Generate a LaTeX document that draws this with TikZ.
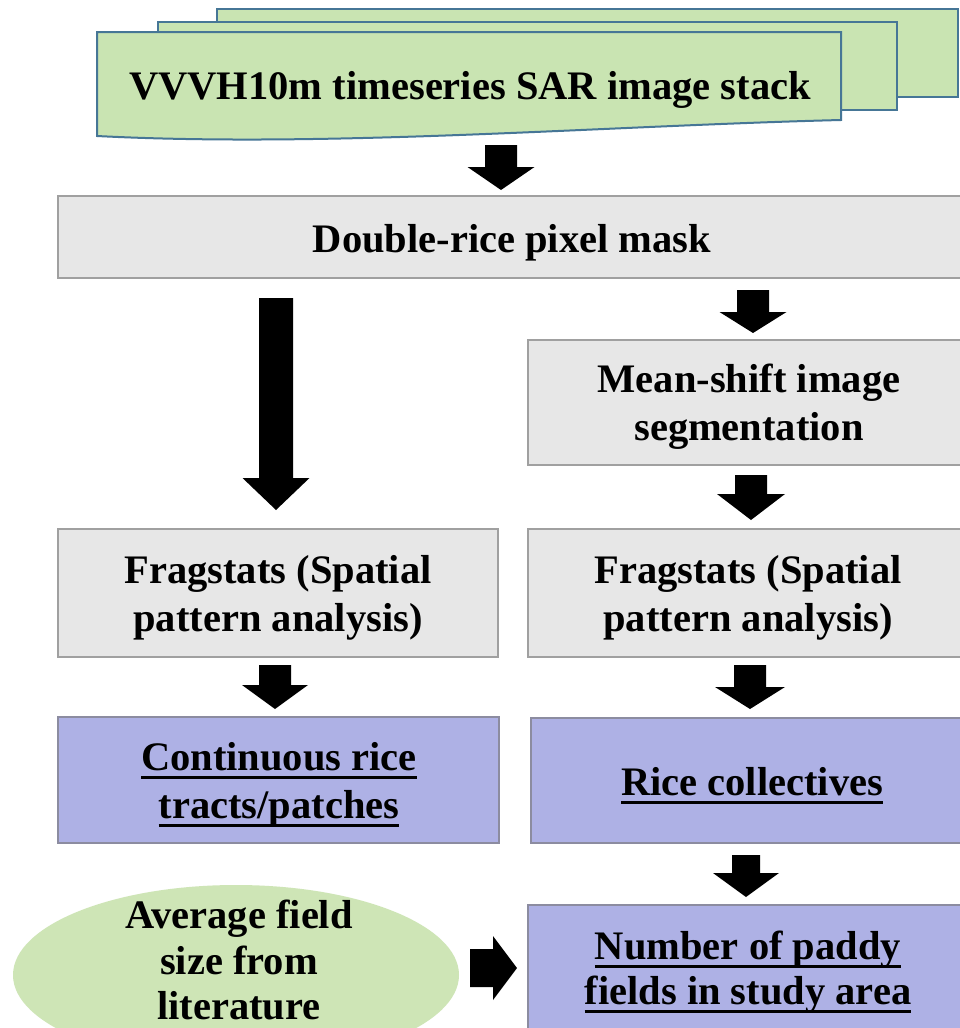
\documentclass[tikz,border=0pt]{standalone}
\usepackage{fontspec}
\setmainfont{Liberation Serif}
\usetikzlibrary{shapes.geometric,calc}
\definecolor{sheetfill}{RGB}{201,228,178}
\definecolor{sheetline}{RGB}{70,118,150}
\definecolor{boxgrey}{RGB}{231,231,231}
\definecolor{boxline}{RGB}{160,160,160}
\definecolor{boxpurple}{RGB}{174,177,229}
\definecolor{purpleline}{RGB}{140,140,160}
\definecolor{ellgreen}{RGB}{206,229,182}
\newcommand\ulx[1]{\leavevmode\setbox0\hbox{#1}\rlap{\rule[-9pt]{\wd0}{3pt}}\box0}
\newcommand\myvarrow[5]{\fill[blockarrow] let \p1=(#1), \p2=(#2) in (\x1-#3,\y1) -- (\x1+#3,\y1) -- (\x1+#3,\y2+#5) -- (\x1+#4,\y2+#5) -- (\x1,\y2) -- (\x1-#4,\y2+#5) -- (\x1-#3,\y2+#5) -- cycle;}
\newcommand\myharrow[5]{\fill[blockarrow] let \p1=(#1), \p2=(#2) in (\x1,\y1-#3) -- (\x1,\y1+#3) -- (\x2-#5,\y1+#3) -- (\x2-#5,\y1+#4) -- (\x2,\y1) -- (\x2-#5,\y1-#4) -- (\x2-#5,\y1-#3) -- cycle;}
\tikzset{
  txt/.style={align=center, font=\fontsize{40.5pt}{48pt}\selectfont\bfseries, inner sep=0pt},
  sheet/.style={draw=sheetline, fill=sheetfill, line width=2pt},
  greybox/.style={draw=boxline, fill=boxgrey, line width=1.6pt, inner sep=0pt, minimum width=440pt},
  purplebox/.style={draw=purpleline, fill=boxpurple, line width=1.6pt, inner sep=0pt, minimum width=440pt},
  blockarrow/.style={fill=black}
}
\begin{document}
\begin{tikzpicture}[x=1pt,y=-1pt]
\useasboundingbox (0,0) rectangle (960,1028);
\clip (0,0) rectangle (960,1028);
\fill[white] (0,0) rectangle (960,1028);
% image stack
\draw[sheet] (217,9) rectangle (958,97);
\draw[sheet] (158,22) rectangle (897,110);
\draw[sheet] (97,32) -- (841,32) -- (841,120) .. controls (600,126) and (330,148) .. (97,136) -- cycle;
\node[txt] (stackT) at (470,89.5) {VVVH10m timeseries SAR image stack};
% boxes
\node[greybox, minimum width=908pt, minimum height=82pt] (mask) at (512,237) {};
\node[txt] (maskT) at (512,242.7) {Double-rice pixel mask};
\node[greybox, minimum height=125pt] (seg) at (748,402.5) {};
\node[txt] (segT) at (749,407) {Mean-shift image\\segmentation};
\node[greybox, minimum height=128pt] (fragL) at (278,593) {};
\node[txt] (fragLT) at (278,597.5) {Fragstats (Spatial\\pattern analysis)};
\node[greybox, minimum height=128pt] (fragR) at (748,593) {};
\node[txt] (fragRT) at (748,597.5) {Fragstats (Spatial\\pattern analysis)};
\node[purplebox, minimum width=441pt, minimum height=126pt] (tracts) at (278.5,780) {};
\node[txt] (tractsT) at (279,784.5) {\ulx{Continuous rice}\\\ulx{tracts/patches}};
\node[purplebox, minimum width=437pt, minimum height=125pt] (coll) at (749.5,780.5) {};
\node[txt] (collT) at (752,785.5) {\ulx{Rice collectives}};
\node[purplebox, minimum height=130pt] (num) at (748,970) {};
\node[txt, font=\fontsize{40.5pt}{45pt}\selectfont\bfseries] (numT) at (748,972) {\ulx{Number of paddy}\\\ulx{fields in study area}};
\node[ellipse, fill=ellgreen, inner sep=0pt, minimum width=446pt, minimum height=180pt] (avg) at (236,975) {};
\node[txt, font=\fontsize{40.5pt}{45.5pt}\selectfont\bfseries] (avgT) at (239,960) {Average field\\size from\\literature};
% arrow coordinates
\coordinate (a1s) at (501,145); \coordinate (a1e) at (501,190);
\coordinate (a2s) at (276,298); \coordinate (a2e) at (276,510);
\coordinate (a3s) at (753,290); \coordinate (a3e) at (753,333);
\coordinate (a4s) at (751,475); \coordinate (a4e) at (751,520);
\coordinate (a5s) at (275,665); \coordinate (a5e) at (275,709);
\coordinate (a6s) at (750,665); \coordinate (a6e) at (750,709);
\coordinate (a7s) at (746,855); \coordinate (a7e) at (746,897);
\coordinate (a8s) at (470,968); \coordinate (a8e) at (517,968);
\myvarrow{a1s}{a1e}{16pt}{33.5pt}{23pt}
\myvarrow{a2s}{a2e}{17pt}{33.5pt}{32pt}
\myvarrow{a3s}{a3e}{16pt}{33.5pt}{21pt}
\myvarrow{a4s}{a4e}{16pt}{34pt}{26pt}
\myvarrow{a5s}{a5e}{16pt}{33pt}{24pt}
\myvarrow{a6s}{a6e}{16pt}{35pt}{22pt}
\myvarrow{a7s}{a7e}{14pt}{33pt}{24pt}
\myharrow{a8s}{a8e}{19pt}{32pt}{24pt}
\end{tikzpicture}
\end{document}
